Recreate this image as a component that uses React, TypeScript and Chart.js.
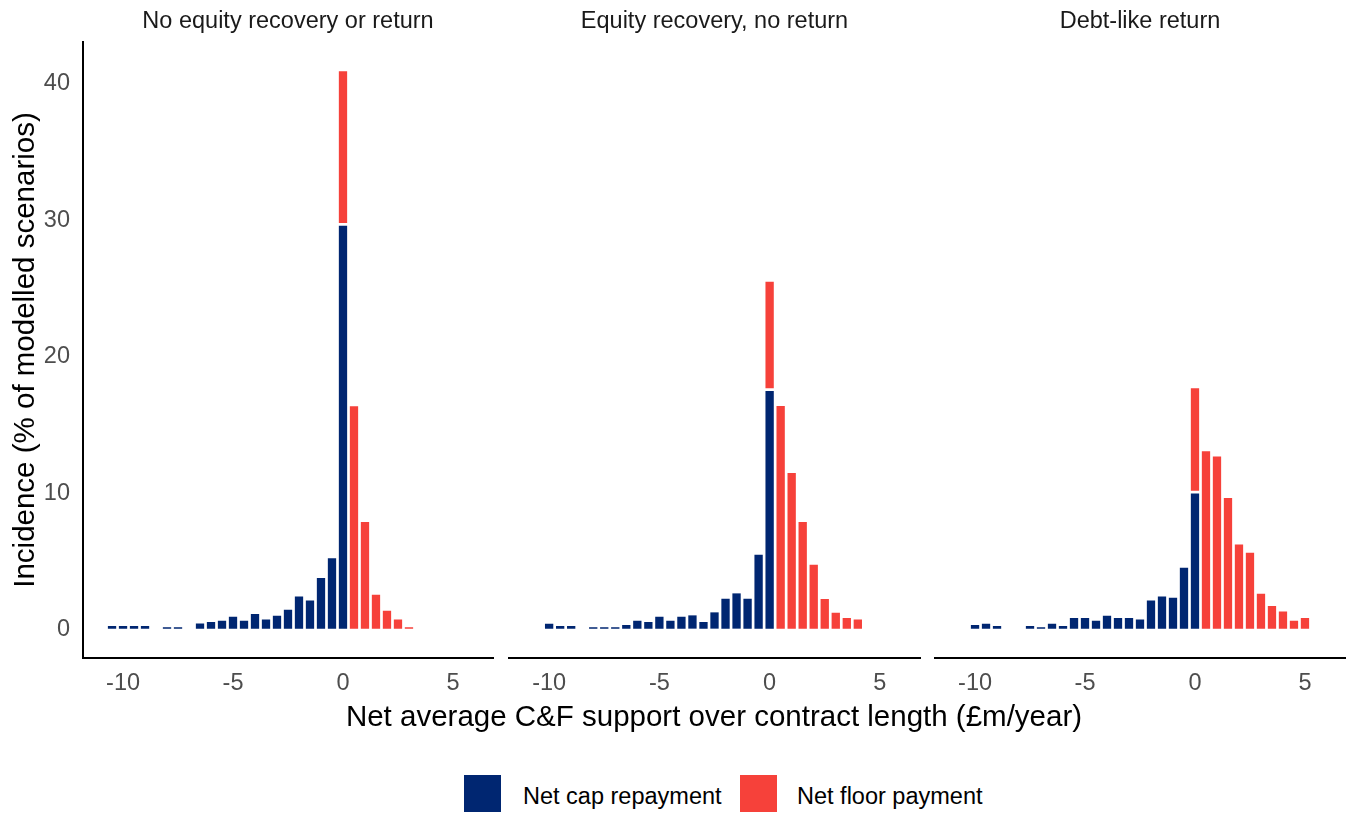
import React, { useEffect, useRef } from 'react';
import { Chart, registerables } from 'chart.js';

Chart.register(...registerables);

const FONT = '"Liberation Sans", Arial, Helvetica, sans-serif';
Chart.defaults.font.family = FONT;

// Bin centres (width 0.5, £m/year)
const binCenters = [
  -10.5, -10, -9.5, -9, -8.5, -8, -7.5, -7, -6.5, -6, -5.5, -5, -4.5, -4, -3.5, -3,
  -2.5, -2, -1.5, -1, -0.5, 0, 0.5, 1, 1.5, 2, 2.5, 3, 3.5, 4, 4.5, 5,
];

const panelTitles = ['No equity recovery or return', 'Equity recovery, no return', 'Debt-like return'];
const seriesLabels = ['Net cap repayment', 'Net floor payment'];

// Panel 1: No equity recovery or return
const capNoEquity = [
  0.39, 0.39, 0.39, 0.39, null, 0.3, 0.3, null, 0.58, 0.68, 0.78, 1.07, 0.78, 1.27, 0.87, 1.14,
  1.58, 2.56, 2.26, 3.9, 5.36, 29.7, null, null, null, null, null, null, null, null, null, null,
];
const floorNoEquity = [
  null, null, null, null, null, null, null, null, null, null, null, null, null, null, null, null,
  null, null, null, null, null, 11.3, 16.48, 8.0, 2.68, 1.51, 0.87, 0.3, null, null, null, null,
];

// Panel 2: Equity recovery, no return
const capEquityRecovery = [
  null, 0.56, 0.39, 0.39, null, 0.3, 0.3, 0.3, 0.46, 0.78, 0.68, 1.07, 0.78, 1.07, 1.17, 0.68,
  1.39, 2.39, 2.78, 2.39, 5.6, 17.6, null, null, null, null, null, null, null, null, null, null,
];
const floorEquityRecovery = [
  null, null, null, null, null, null, null, null, null, null, null, null, null, null, null, null,
  null, null, null, null, null, 8.0, 16.5, 11.6, 8.0, 4.87, 2.36, 1.36, 0.97, 0.87, null, null,
];

// Panel 3: Debt-like return
const capDebtLike = [
  null, 0.46, 0.56, 0.39, null, null, 0.39, 0.3, 0.56, 0.39, 0.97, 0.97, 0.78, 1.14, 0.97, 0.97,
  0.87, 2.26, 2.56, 2.46, 4.65, 10.1, null, null, null, null, null, null, null, null, null, null,
];
const floorDebtLike = [
  null, null, null, null, null, null, null, null, null, null, null, null, null, null, null, null,
  null, null, null, null, null, 7.7, 13.19, 12.8, 9.77, 6.36, 5.75, 2.75, 1.85, 1.46, 0.78, 0.97,
];

const xTicks = [-10, -5, 0, 5];
const yTicks = [0, 10, 20, 30, 40];

const CAP_COLOR = '#002671';
const FLOOR_COLOR = '#F6413A';
const TICK_COLOR = '#4D4D4D';

const panels = [
  { title: panelTitles[0], cap: capNoEquity, floor: floorNoEquity, left: 0, width: 500, pl: 0, pr: 7, showY: true },
  { title: panelTitles[1], cap: capEquityRecovery, floor: floorEquityRecovery, left: 499, width: 431, pl: 10, pr: 10, showY: false },
  { title: panelTitles[2], cap: capDebtLike, floor: floorDebtLike, left: 925, width: 430, pl: 10, pr: 10, showY: false },
];

function toPoints(values: (number | null)[]) {
  const pts: { x: number; y: number }[] = [];
  binCenters.forEach((x, i) => {
    const v = values[i];
    if (v !== null && v !== undefined) pts.push({ x, y: v });
  });
  return pts;
}

function Panel(props: any) {
  const ref = useRef<HTMLCanvasElement | null>(null);
  const p = props.panel;
  useEffect(() => {
    if (!ref.current) return;
    const barCommon = {
      borderColor: '#FFFFFF',
      borderWidth: 1.35,
      borderSkipped: false,
      inflateAmount: 0,
      grouped: false,
      barPercentage: 1,
      categoryPercentage: 1,
    };
    const chart = new Chart(ref.current, {
      type: 'bar',
      data: {
        datasets: [
          { label: seriesLabels[0], data: toPoints(p.cap), backgroundColor: CAP_COLOR, ...barCommon } as any,
          { label: seriesLabels[1], data: toPoints(p.floor), backgroundColor: FLOOR_COLOR, ...barCommon } as any,
        ],
      },
      options: {
        animation: false,
        responsive: false,
        maintainAspectRatio: false,
        layout: { padding: { left: p.pl, right: p.pr, top: 0, bottom: 0 } },
        plugins: {
          legend: { display: false },
          tooltip: { enabled: false },
          title: {
            display: true,
            text: p.title,
            fullSize: false,
            color: '#1A1A1A',
            font: { size: 23.5, weight: 'normal' },
            padding: { top: 7, bottom: 6.8 },
          },
        },
        scales: {
          x: {
            type: 'linear',
            offset: false,
            min: -11.82,
            max: 6.82,
            grid: { display: false, drawTicks: false, offset: false },
            border: { display: true, color: '#000000', width: 2 },
            ticks: { color: TICK_COLOR, font: { size: 23.5 }, padding: 11, maxRotation: 0, autoSkip: false },
            afterBuildTicks: (s: any) => {
              s.ticks = xTicks.map((v) => ({ value: v }));
            },
            afterFit: (s: any) => {
              s.height = 42;
            },
          },
          y: {
            display: p.showY,
            stacked: true,
            min: -2.05,
            max: 43.05,
            grid: { display: false, drawTicks: false },
            border: { display: true, color: '#000000', width: 2 },
            ticks: { color: TICK_COLOR, font: { size: 23.5 }, padding: 13 },
            title: {
              display: p.showY,
              text: 'Incidence (% of modelled scenarios)',
              color: '#000000',
              font: { size: 29.5 },
              padding: { top: 8, bottom: 0 },
            },
            afterBuildTicks: (s: any) => {
              s.ticks = yTicks.map((v) => ({ value: v }));
            },
            afterFit: (s: any) => {
              s.width = p.showY ? 83 : 0;
            },
          },
        },
      } as any,
    });
    return () => chart.destroy();
  }, []);
  return (
    <canvas
      ref={ref}
      width={p.width}
      height={700}
      style={{ position: 'absolute', left: p.left, top: 0, width: p.width, height: 700 }}
    />
  );
}

export default function App() {
  const textBase: React.CSSProperties = { position: 'absolute', fontFamily: FONT, whiteSpace: 'nowrap' };
  return (
    <div style={{ position: 'fixed', left: 0, top: 0, width: 1350, height: 813, background: '#FFFFFF', overflow: 'hidden' }}>
      {panels.map((p, i) => (
        <Panel key={i} panel={p} />
      ))}
      <div
        style={{
          ...textBase,
          left: 83,
          width: 1262,
          top: 701,
          textAlign: 'center',
          fontSize: 29.5,
          lineHeight: '30px',
          color: '#000000',
        }}
      >
        Net average C&amp;F support over contract length (£m/year)
      </div>
      <div style={{ position: 'absolute', left: 464, top: 775, width: 37, height: 37, background: CAP_COLOR }} />
      <div style={{ ...textBase, left: 523, top: 783, fontSize: 23.5, lineHeight: '26px', color: '#000000' }}>
        {seriesLabels[0]}
      </div>
      <div style={{ position: 'absolute', left: 740, top: 775, width: 37, height: 37, background: FLOOR_COLOR }} />
      <div style={{ ...textBase, left: 797, top: 783, fontSize: 23.5, lineHeight: '26px', color: '#000000' }}>
        {seriesLabels[1]}
      </div>
    </div>
  );
}
